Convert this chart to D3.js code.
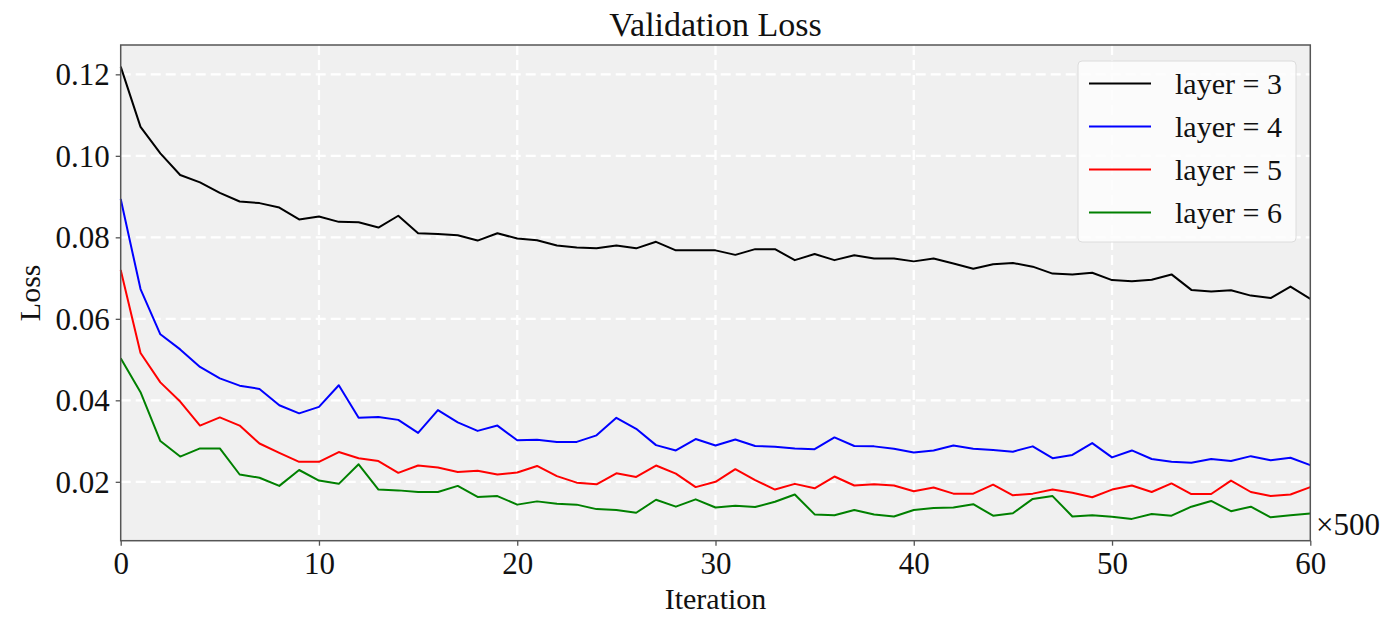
<!DOCTYPE html>
<html>
<head>
<meta charset="utf-8">
<script src="https://cdn.jsdelivr.net/npm/d3@7"></script>
<style>
  body { margin: 0; background: #fff; }
  svg text { font-family: "Liberation Serif", "Times New Roman", serif; fill: #111; }
</style>
</head>
<body>
<svg id="chart" width="1390" height="625"></svg>
<script>
// values, one per iteration step (x500)
const layer3 = [0.1219, 0.1071, 0.1006, 0.0953, 0.0935, 0.0909, 0.0888, 0.0884, 0.0873, 0.0844,
  0.0851, 0.0838, 0.0837, 0.0824, 0.0853, 0.0810, 0.0808, 0.0805, 0.0792, 0.0810,
  0.0797, 0.0793, 0.0780, 0.0775, 0.0773, 0.0780, 0.0773, 0.0789, 0.0768, 0.0768,
  0.0768, 0.0757, 0.0771, 0.0771, 0.0744, 0.0759, 0.0744, 0.0756, 0.0748, 0.0748,
  0.0741, 0.0748, 0.0736, 0.0723, 0.0734, 0.0737, 0.0728, 0.0711, 0.0709, 0.0713,
  0.0695, 0.0692, 0.0696, 0.0709, 0.0671, 0.0667, 0.0670, 0.0657, 0.0651, 0.0679, 0.0649];
const layer4 = [0.0894, 0.0673, 0.0562, 0.0525, 0.0482, 0.0454, 0.0436, 0.0428, 0.0388, 0.0368,
  0.0384, 0.0437, 0.0357, 0.0359, 0.0352, 0.0320, 0.0376, 0.0346, 0.0325, 0.0338,
  0.0302, 0.0303, 0.0298, 0.0298, 0.0314, 0.0357, 0.0330, 0.0290, 0.0277, 0.0305,
  0.0289, 0.0304, 0.0288, 0.0286, 0.0282, 0.0280, 0.0309, 0.0288, 0.0287, 0.0281,
  0.0272, 0.0277, 0.0289, 0.0281, 0.0278, 0.0274, 0.0287, 0.0258, 0.0266, 0.0295,
  0.0260, 0.0277, 0.0256, 0.0249, 0.0247, 0.0256, 0.0251, 0.0263, 0.0253, 0.0259, 0.0241];
const layer5 = [0.0720, 0.0516, 0.0444, 0.0397, 0.0338, 0.0358, 0.0338, 0.0294, 0.0271, 0.0249,
  0.0249, 0.0273, 0.0258, 0.0251, 0.0222, 0.0240, 0.0235, 0.0224, 0.0227, 0.0218,
  0.0223, 0.0239, 0.0214, 0.0198, 0.0194, 0.0221, 0.0212, 0.0240, 0.0220, 0.0187,
  0.0200, 0.0231, 0.0204, 0.0181, 0.0195, 0.0184, 0.0213, 0.0191, 0.0194, 0.0191,
  0.0177, 0.0186, 0.0171, 0.0171, 0.0193, 0.0167, 0.0171, 0.0181, 0.0173, 0.0162,
  0.0181, 0.0191, 0.0175, 0.0196, 0.0170, 0.0170, 0.0203, 0.0175, 0.0165, 0.0169, 0.0187];
const layer6 = [0.0503, 0.0420, 0.0300, 0.0262, 0.0282, 0.0282, 0.0218, 0.0210, 0.0190, 0.0229,
  0.0203, 0.0195, 0.0243, 0.0181, 0.0179, 0.0175, 0.0175, 0.0190, 0.0163, 0.0165,
  0.0144, 0.0152, 0.0146, 0.0144, 0.0133, 0.0131, 0.0124, 0.0156, 0.0139, 0.0157,
  0.0137, 0.0141, 0.0138, 0.0151, 0.0169, 0.0120, 0.0118, 0.0131, 0.0120, 0.0115,
  0.0131, 0.0136, 0.0137, 0.0145, 0.0117, 0.0123, 0.0158, 0.0165, 0.0115, 0.0118,
  0.0114, 0.0109, 0.0121, 0.0117, 0.0139, 0.0153, 0.0128, 0.0139, 0.0113, 0.0118, 0.0122];

const seriesNames  = ['layer = 3', 'layer = 4', 'layer = 5', 'layer = 6'];
const seriesColors = ['#000000', '#0000ff', '#ff0000', '#008000'];
const xTicks = [0, 10, 20, 30, 40, 50, 60];
const yTicks = [0.02, 0.04, 0.06, 0.08, 0.10, 0.12];

const series = [layer3, layer4, layer5, layer6];

const svg = d3.select('#chart');
const pl = 120.7, pr = 1310.3, pt = 45, pb = 540.7;

const x = d3.scaleLinear().domain([0, 60]).range([pl, pr]);
const y = d3.scaleLinear().domain([0.00555, 0.1272]).range([pb, pt]);

// plot background
svg.append('rect')
  .attr('x', pl).attr('y', pt)
  .attr('width', pr - pl).attr('height', pb - pt)
  .attr('fill', '#f0f0f0');

// grid
const grid = svg.append('g')
  .attr('stroke', '#fff')
  .attr('stroke-width', 2.3)
  .attr('stroke-dasharray', '10,5');
grid.selectAll('line.v')
  .data(xTicks.slice(1, -1))
  .join('line')
    .attr('class', 'v')
    .attr('x1', d => x(d)).attr('x2', d => x(d))
    .attr('y1', pt).attr('y2', pb);
grid.selectAll('line.h')
  .data(yTicks)
  .join('line')
    .attr('class', 'h')
    .attr('x1', pl).attr('x2', pr)
    .attr('y1', d => y(d)).attr('y2', d => y(d));

// lines
const line = d3.line()
  .x((d, i) => x(i))
  .y(d => y(d));

svg.append('g')
  .selectAll('path')
  .data(series)
  .join('path')
    .attr('d', line)
    .attr('fill', 'none')
    .attr('stroke', (d, i) => seriesColors[i])
    .attr('stroke-width', 2)
    .attr('stroke-linejoin', 'round');

// axes
const xAxis = svg.append('g')
  .attr('transform', `translate(0,${pb})`)
  .call(d3.axisBottom(x).tickValues(xTicks).tickFormat(d3.format('d')).tickSize(5).tickPadding(6));
const yAxis = svg.append('g')
  .attr('transform', `translate(${pl},0)`)
  .call(d3.axisLeft(y).tickValues(yTicks).tickFormat(d3.format('.2f')).tickSize(5).tickPadding(6));

[xAxis, yAxis].forEach(ax => {
  ax.select('.domain').remove();
  ax.selectAll('line').attr('stroke', '#555').attr('stroke-width', 1.3);
  ax.selectAll('text')
    .style('font-size', '31px')
    .style('font-family', '"Liberation Serif", serif')
    .attr('fill', '#111');
});
xAxis.selectAll('text').attr('dy', '0.72em');
yAxis.selectAll('text').attr('dy', '0.34em');

// frame
svg.append('rect')
  .attr('x', pl).attr('y', pt)
  .attr('width', pr - pl).attr('height', pb - pt)
  .attr('fill', 'none')
  .attr('stroke', '#555')
  .attr('stroke-width', 1.5);

// labels
svg.append('text')
  .attr('x', (pl + pr) / 2).attr('y', 36)
  .attr('text-anchor', 'middle')
  .style('font-size', '34px')
  .text('Validation Loss');

svg.append('text')
  .attr('x', (pl + pr) / 2).attr('y', 609)
  .attr('text-anchor', 'middle')
  .style('font-size', '30px')
  .text('Iteration');

svg.append('text')
  .attr('transform', `translate(40,${(pt + pb) / 2}) rotate(-90)`)
  .attr('text-anchor', 'middle')
  .style('font-size', '30px')
  .text('Loss');

svg.append('text')
  .attr('x', 1316).attr('y', 535)
  .style('font-size', '31px')
  .text('\u00d7500');

// legend
const lg = svg.append('g');
lg.append('rect')
  .attr('x', 1078).attr('y', 61)
  .attr('width', 218).attr('height', 181)
  .attr('rx', 4)
  .attr('fill', '#fdfdfd')
  .attr('fill-opacity', 0.85)
  .attr('stroke', '#dcdcdc')
  .attr('stroke-width', 1);

const rowY = d3.scalePoint().domain(seriesNames).range([83.5, 212.5]);
const items = lg.selectAll('g.item')
  .data(seriesNames)
  .join('g')
    .attr('class', 'item')
    .attr('transform', d => `translate(0,${rowY(d)})`);
items.append('line')
  .attr('x1', 1089).attr('x2', 1151)
  .attr('stroke', (d, i) => seriesColors[i])
  .attr('stroke-width', 2);
items.append('text')
  .attr('x', 1175).attr('dy', '0.34em')
  .style('font-size', '30px')
  .text(d => d);
</script>
</body>
</html>
